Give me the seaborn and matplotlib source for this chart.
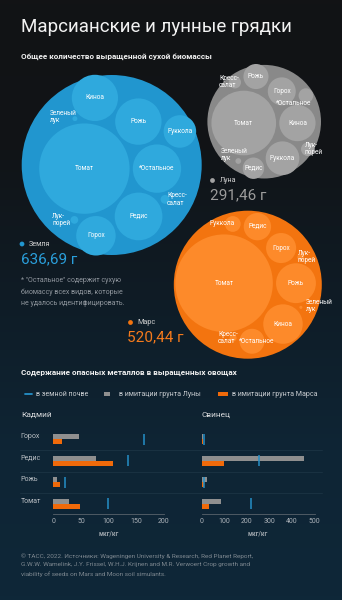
import numpy as np
import pandas as pd
import matplotlib
matplotlib.use("Agg")
import matplotlib.pyplot as plt
import seaborn as sns
from matplotlib.patches import Circle
from matplotlib.colors import LinearSegmentedColormap

sns.set_theme(style="white")
plt.rcParams["font.family"] = ["Roboto", "DejaVu Sans"]

# ---------------- data ----------------
title = "Марсианские и лунные грядки"
subtitle = "Общее количество выращенной сухой биомассы"
crops = ["Томат", "*Остальное", "Редис", "Рожь", "Киноа", "Горох",
         "Руккола", "Кресс-\nсалат", "Лук-\nпорей", "Зеленый\nлук"]
earth_biomass = [262, 75, 73, 69, 68.5, 50, 34, 2.5, 1.9, 0.79]
moon_biomass = [134, 6.9, 14.7, 20.2, 42.3, 25.1, 36.4, 4.8, 6.0, 1.06]
mars_biomass = [305, 20, 24, 51, 50, 29, 8, 1.6, 1.4, 0.3]
soil_names = ["Земля", "Луна", "Марс"]
soil_totals = ["636,69 г", "291,46 г", "520,44 г"]
footnote = "* \"Остальное\" содержит сухую\nбиомассу всех видов, которые\nне удалось идентифицировать."

metals_title = "Содержание опасных металлов в выращенных овощах"
legend_labels = ["в земной почве", "в имитации грунта Луны", "в имитации грунта Марса"]
panel_titles = ["Кадмий", "Свинец"]
veg = ["Горох", "Редис", "Рожь", "Томат"]
cd_earth = [164, 135, 21, 98]
cd_moon = [46, 78, 7, 28]
cd_mars = [15, 107, 13, 48]
pb_earth = [12, 255, 12, 218]
pb_moon = [7, 453, 22, 84]
pb_mars = [6, 100, 10, 32]
cd_ticks = [0, 50, 100, 150, 200]
pb_ticks = [0, 100, 200, 300, 400, 500]
unit = "мкг/кг"
source = ("© TACC, 2022. Источники: Wageningen University & Research, Red Planet Report,\n"
          "G.W.W. Wamelink, J.Y. Frissel, W.H.J. Krijnen and M.R. Verwoert Crop growth and\n"
          "viability of seeds on Mars and Moon soil simulants.")

# ---------------- colours ----------------
BLUE_O, BLUE_I, BLUE_T = "#2196cf", "#2fa9dd", "#2a9fdb"
GREY_O, GREY_I, GREY_T = "#898989", "#a3a3a3", "#9c9c9c"
ORNG_O, ORNG_I, ORNG_T = "#f3740f", "#fd8a2a", "#f57a1c"
BAR_GREY, BAR_ORNG, LINE_BLUE = "#8f8f8f", "#f06a0a", "#2590c8"


# ---------------- circle packing (d3 packSiblings) ----------------
class Node:
    def __init__(self, c):
        self.c = c
        self.next = None
        self.prev = None


def place(b, a, c):
    dx, dy = b[0] - a[0], b[1] - a[1]
    d2 = dx * dx + dy * dy
    if d2:
        a2 = (a[2] + c[2]) ** 2
        b2 = (b[2] + c[2]) ** 2
        if a2 > b2:
            x = (d2 + b2 - a2) / (2 * d2)
            y = np.sqrt(max(0.0, b2 / d2 - x * x))
            c[0] = b[0] - x * dx - y * dy
            c[1] = b[1] - x * dy + y * dx
        else:
            x = (d2 + a2 - b2) / (2 * d2)
            y = np.sqrt(max(0.0, a2 / d2 - x * x))
            c[0] = a[0] + x * dx - y * dy
            c[1] = a[1] + x * dy + y * dx
    else:
        c[0] = a[0] + c[2]
        c[1] = a[1]


def intersects(a, b):
    dr = a[2] + b[2] - 1e-6
    dx, dy = b[0] - a[0], b[1] - a[1]
    return dr > 0 and dr * dr > dx * dx + dy * dy


def score(node):
    a, b = node.c, node.next.c
    ab = a[2] + b[2]
    dx = (a[0] * b[2] + b[0] * a[2]) / ab
    dy = (a[1] * b[2] + b[1] * a[2]) / ab
    return dx * dx + dy * dy


def pack_siblings(circles):
    n = len(circles)
    a = circles[0]
    a[0], a[1] = 0.0, 0.0
    b = circles[1]
    a[0] = -b[2]
    b[0], b[1] = a[2], 0.0
    c = circles[2]
    place(b, a, c)
    a, b, c = Node(a), Node(b), Node(c)
    a.next = c.prev = b
    b.next = a.prev = c
    c.next = b.prev = a
    i = 3
    while i < n:
        c = circles[i]
        place(a.c, b.c, c)
        c = Node(c)
        j, k = b.next, a.prev
        sj, sk = b.c[2], a.c[2]
        restart = False
        while True:
            if sj <= sk:
                if intersects(j.c, c.c):
                    b = j
                    a.next = b
                    b.prev = a
                    restart = True
                    break
                sj += j.c[2]
                j = j.next
            else:
                if intersects(k.c, c.c):
                    a = k
                    a.next = b
                    b.prev = a
                    restart = True
                    break
                sk += k.c[2]
                k = k.prev
            if j is k.next:
                break
        if restart:
            continue
        c.prev = a
        c.next = b
        a.next = b.prev = b = c
        aa = score(a)
        c = c.next
        while c is not b:
            ca = score(c)
            if ca < aa:
                a, aa = c, ca
            c = c.next
        b = a.next
        i += 1


def enclose(circles):
    pts = np.array([[c[0], c[1]] for c in circles])
    rs = np.array([c[2] for c in circles])
    cen = np.average(pts, axis=0, weights=rs ** 2)
    for it in range(1, 4000):
        d = np.hypot(*(pts - cen).T)
        far = np.argmax(d + rs)
        u = (pts[far] - cen) / max(d[far], 1e-9)
        target = pts[far] + u * rs[far]
        cen = cen + (target - cen) / (it + 1)
    d = np.hypot(*(pts - cen).T)
    return cen, np.max(d + rs)


K = 2.792   # px per sqrt(gram)
PAD = 1.6


def layout(values):
    order = sorted(range(len(values)), key=lambda i: -values[i])
    circ = {i: [0.0, 0.0, K * np.sqrt(values[i]) + PAD] for i in order}
    pack_siblings([circ[i] for i in order])
    cen, R = enclose([circ[i] for i in order])
    res = {}
    for i in order:
        res[i] = (circ[i][0] - cen[0], circ[i][1] - cen[1], circ[i][2] - PAD)
    return res, R + PAD


# ---------------- figure ----------------
fig = plt.figure(figsize=(3.42, 6.0), dpi=100)
ax = fig.add_axes([0, 0, 1, 1])
ax.set_xlim(0, 342)
ax.set_ylim(600, 0)
ax.axis("off")

bg = LinearSegmentedColormap.from_list("bg", ["#121315", "#111417", "#0f1c26", "#0e2535", "#0e2738"])
grad = np.linspace(0, 1, 300).reshape(-1, 1)
ax.imshow(grad, cmap=bg, extent=[0, 342, 600, 0], aspect="auto", zorder=0)

ax.text(21, 27, title, color="#f2f2f2", fontsize=13.5, va="center", ha="left")
ax.text(21, 56, subtitle, color="#f0f0f0", fontsize=5.9, fontweight="bold", va="center", ha="left")

soils = [
    (earth_biomass, (111.7, 165.0), BLUE_O, BLUE_I, 90.0),
    (moon_biomass, (264.2, 121.7), GREY_O, GREY_I, 56.8),
    (mars_biomass, (247.8, 284.7), ORNG_O, ORNG_I, 74.0),
]

# label offsets for small circles (dx, dy, ha)
small_labels = {
    0: {7: (2, 0, "left"), 8: (-4, 0, "right"), 9: (2, -2, "right")},
    1: {7: (-6, 0, "center"), 8: (-3, 0, "left"), 9: (-4, -6, "center"), 1: (5, 8, "right")},
    2: {7: (-5, 0, "center"), 8: (-3, 0, "left"), 9: (5, -1, "left"), 6: (2, 0, "right"), 1: (5, 0, "center")},
}

for s, (vals, (cx, cy), co, ci, Rout) in enumerate(soils):
    res, R = layout(vals)
    ax.add_patch(Circle((cx, cy), Rout, facecolor=co, edgecolor="none", zorder=2))
    for i, (x, y, r) in res.items():
        ax.add_patch(Circle((cx + x, cy + y), r, facecolor=ci, edgecolor="none", zorder=3))
    for i, (x, y, r) in res.items():
        dx, dy, ha = small_labels[s].get(i, (0, 0, "center"))
        ax.text(cx + x + dx, cy + y + dy, crops[i], color="white", fontsize=4.7,
                ha=ha, va="center", multialignment="left", linespacing=1.05, zorder=5)

# soil captions
caps = [((22, 244), (21, 259), BLUE_T, BLUE_O),
        ((212.5, 180.5), (210, 195), GREY_T, GREY_I),
        ((130.5, 322.5), (127, 337.5), ORNG_T, ORNG_O)]
for s, ((dx_, dy_), (tx, ty), tc, dc) in enumerate(caps):
    ax.add_patch(Circle((dx_, dy_), 2.4, facecolor=dc, edgecolor="none", zorder=4))
    ax.text(dx_ + 7, dy_, soil_names[s], color="#d0d0d0", fontsize=5.2, va="center", ha="left")
    ax.text(tx, ty, soil_totals[s], color=tc, fontsize=11, va="center", ha="left")

ax.text(21, 292, footnote, color="#8f969d", fontsize=5.0, va="center", ha="left", linespacing=1.75)

# metals section
ax.text(21, 372.5, metals_title, color="#f0f0f0", fontsize=5.85, fontweight="bold", va="center", ha="left")
ax.plot([25, 31.5], [394, 394], color=LINE_BLUE, lw=1.3)
ax.text(36, 394, legend_labels[0], color="#c8ccd0", fontsize=5.1, va="center", ha="left")
ax.add_patch(plt.Rectangle((104, 392), 6, 4, facecolor=BAR_GREY, edgecolor="none"))
ax.text(119, 394, legend_labels[1], color="#c8ccd0", fontsize=5.1, va="center", ha="left")
ax.add_patch(plt.Rectangle((217.5, 392), 10, 4, facecolor=BAR_ORNG, edgecolor="none"))
ax.text(232, 394, legend_labels[2], color="#c8ccd0", fontsize=5.1, va="center", ha="left")

ax.text(21, 415, panel_titles[0], color="#d8dadc", fontsize=6.0, va="center", ha="left")
ax.text(201, 415, panel_titles[1], color="#d8dadc", fontsize=6.0, va="center", ha="left")
for k, v in enumerate(veg):
    ax.text(20.5, 436.8 + 21.5 * k, v, color="#b9bec3", fontsize=5.0, va="center", ha="left")
for yy in [450, 471.5, 493]:
    ax.plot([20, 322], [yy, yy], color="#1c3444", lw=0.6, zorder=1)

ax.text(21, 565, source, color="#7f8991", fontsize=4.6, va="center", ha="left", linespacing=1.8)


def metal_axes(rect, moon, mars, earth, xmax, ticks):
    bax = fig.add_axes(rect)
    bax.patch.set_alpha(0)
    df = pd.DataFrame({
        "veg": veg * 2,
        "value": list(moon) + list(mars),
        "soil": ["Луна"] * len(veg) + ["Марс"] * len(veg),
    })
    sns.barplot(data=df, y="veg", x="value", hue="soil", order=veg,
                palette=[BAR_GREY, BAR_ORNG], orient="h", width=0.48,
                saturation=1, legend=False, ax=bax, errorbar=None,
                linewidth=0, edgecolor="none")
    pos = np.arange(len(veg))
    bax.vlines(earth, pos - 0.26, pos + 0.26, color=LINE_BLUE, lw=1.1, zorder=5)
    bax.set_xlim(0, xmax)
    bax.set_ylim(3.48, -0.5)
    bax.set_yticks([])
    bax.set_ylabel("")
    bax.set_xticks(ticks)
    bax.set_xticklabels([str(t) for t in ticks])
    bax.tick_params(axis="x", colors="#59636b", labelcolor="#aab1b7", labelsize=5.0,
                    length=2, width=0.6, direction="in", pad=3)
    for sp in ["top", "right", "left"]:
        bax.spines[sp].set_visible(False)
    bax.spines["bottom"].set_color("#59636b")
    bax.spines["bottom"].set_linewidth(0.6)
    bax.set_xlabel(unit, color="#9aa2a9", fontsize=4.8, fontweight="bold", labelpad=3)
    return bax


metal_axes([53.3 / 342, 1 - 514 / 600, (164 - 53.3) / 342, 85.5 / 600],
           cd_moon, cd_mars, cd_earth, 200, cd_ticks)
metal_axes([201.7 / 342, 1 - 514 / 600, 113 / 342, 85.5 / 600],
           pb_moon, pb_mars, pb_earth, 500, pb_ticks)

fig.savefig("out.png", dpi=100, facecolor="#111214")
